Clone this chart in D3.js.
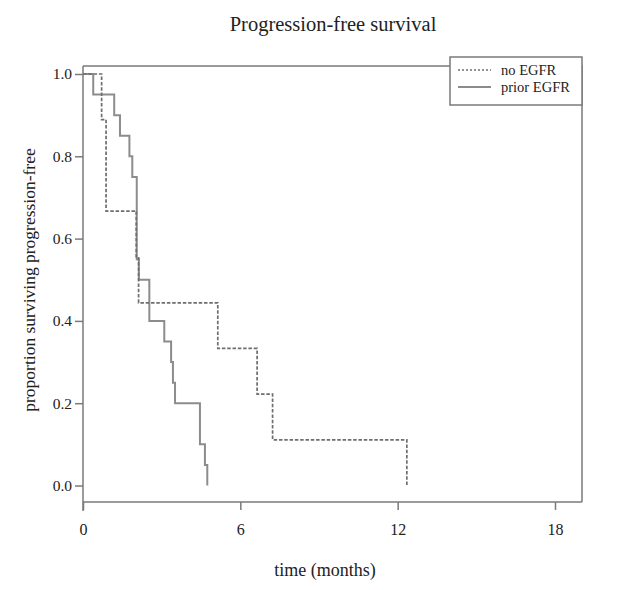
<!DOCTYPE html>
<html>
<head>
<meta charset="utf-8">
<script src="https://cdn.jsdelivr.net/npm/d3@7/dist/d3.min.js"></script>
<style>
  html, body { margin: 0; padding: 0; background: #fff; }
  svg { display: block; }
  text { font-family: "Liberation Serif", "DejaVu Serif", serif; fill: #222; }
</style>
</head>
<body>
<svg id="chart" width="618" height="590"></svg>
<script>
// ---- data ----
const seriesNames = ["no EGFR", "prior EGFR"];
const noEgfrTimes = [0, 0.71, 0.88, 2.03, 2.12, 5.14, 6.64, 7.23, 12.35];
const noEgfrSurv  = [1.0, 0.889, 0.667, 0.556, 0.444, 0.333, 0.222, 0.111, 0.0];
const priorEgfrTimes = [0, 0.39, 1.19, 1.41, 1.77, 1.88, 2.05, 2.13, 2.53, 3.10, 3.36, 3.43, 3.51, 4.46, 4.65, 4.74];
const priorEgfrSurv  = [1.0, 0.95, 0.90, 0.85, 0.80, 0.75, 0.55, 0.50, 0.40, 0.35, 0.30, 0.25, 0.20, 0.10, 0.05, 0.0];
const xTicks = [0, 6, 12, 18];
const yTicks = [0.0, 0.2, 0.4, 0.6, 0.8, 1.0];
const titleText = "Progression-free survival";
const xLabel = "time (months)";
const yLabel = "proportion surviving progression-free";

// ---- layout ----
const svg = d3.select("#chart");
const frame = { left: 83, right: 582, top: 66, bottom: 502 };
const x = d3.scaleLinear().domain([0, 18]).range([83, 555]);
const y = d3.scaleLinear().domain([0, 1]).range([485.5, 74]);
const axisColor = "#7a7a7a";

// title
svg.append("text").attr("x", 333).attr("y", 31).attr("text-anchor", "middle")
  .style("font-size", "20.5px").text(titleText);

// frame (top and right)
svg.append("path")
  .attr("d", `M${frame.left},${frame.top}H${frame.right}V${frame.bottom}`)
  .attr("fill", "none").attr("stroke", axisColor).attr("stroke-width", 1.5);

// x axis
const xAxis = d3.axisBottom(x).tickValues(xTicks).tickSize(8).tickPadding(14)
  .tickFormat(d3.format("d"));
const gx = svg.append("g").attr("transform", `translate(0,${frame.bottom})`).call(xAxis);
gx.select(".domain").remove();
gx.append("line").attr("x1", frame.left).attr("x2", frame.right)
  .attr("stroke", axisColor).attr("stroke-width", 1.5);
gx.selectAll(".tick line").attr("stroke", axisColor).attr("stroke-width", 1.5);
gx.selectAll(".tick text").style("font-size", "16px").style("font-family", "Liberation Serif, serif").attr("fill", "#222");

// y axis
const yAxis = d3.axisLeft(y).tickValues(yTicks).tickSize(8).tickPadding(3)
  .tickFormat(d3.format(".1f"));
const gy = svg.append("g").attr("transform", `translate(${frame.left},0)`).call(yAxis);
gy.select(".domain").remove();
gy.append("line").attr("y1", frame.top).attr("y2", 511)
  .attr("stroke", axisColor).attr("stroke-width", 1.5);
gy.selectAll(".tick line").attr("stroke", axisColor).attr("stroke-width", 1.5);
gy.selectAll(".tick text").style("font-size", "15.5px").style("font-family", "Liberation Serif, serif").attr("fill", "#222");

// axis labels
svg.append("text").attr("x", 325).attr("y", 576).attr("text-anchor", "middle")
  .style("font-size", "18px").text(xLabel);
svg.append("text").attr("transform", "translate(35,280) rotate(-90)")
  .attr("text-anchor", "middle").style("font-size", "17.5px").text(yLabel);

// curves
const line = d3.line().x(d => x(d[0])).y(d => y(d[1])).curve(d3.curveStepAfter);
const noData = noEgfrTimes.map((t, i) => [t, noEgfrSurv[i]]);
const priorData = priorEgfrTimes.map((t, i) => [t, priorEgfrSurv[i]]);

svg.append("path").datum(priorData).attr("d", line)
  .attr("fill", "none").attr("stroke", "#8c8c8c").attr("stroke-width", 2);
svg.append("path").datum(noData).attr("d", line)
  .attr("fill", "none").attr("stroke", "#6e6e6e").attr("stroke-width", 1.7)
  .attr("stroke-dasharray", "3.5,1.8");

// legend
const lg = svg.append("g");
lg.append("rect").attr("x", 450).attr("y", 57).attr("width", 132).attr("height", 48)
  .attr("fill", "#fff").attr("stroke", axisColor).attr("stroke-width", 1.5);
const legendStyles = [
  { dash: "2,2", color: "#6e6e6e", w: 1.5 },
  { dash: null, color: "#8c8c8c", w: 2 }
];
seriesNames.forEach((name, i) => {
  const yy = 70 + i * 17;
  lg.append("line").attr("x1", 458).attr("x2", 491).attr("y1", yy).attr("y2", yy)
    .attr("stroke", legendStyles[i].color).attr("stroke-width", legendStyles[i].w)
    .attr("stroke-dasharray", legendStyles[i].dash);
  lg.append("text").attr("x", 501).attr("y", yy + 5).style("font-size", "14.5px").text(name);
});
</script>
</body>
</html>
